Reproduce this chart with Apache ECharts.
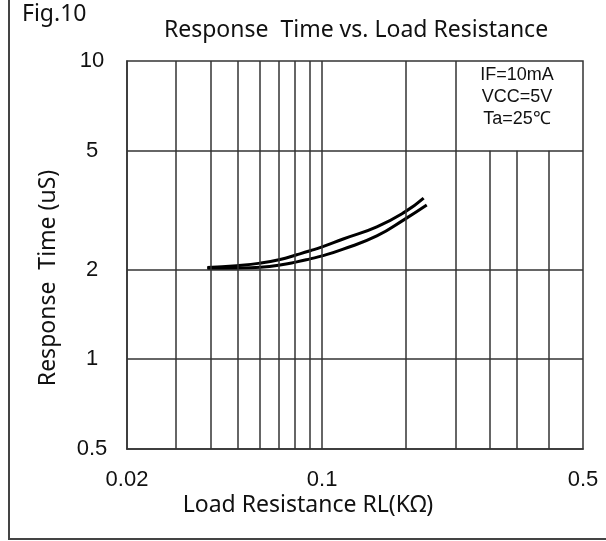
<!DOCTYPE html>
<html>
<head>
<meta charset="utf-8">
<script src="https://cdn.jsdelivr.net/npm/echarts@6/dist/echarts.min.js"></script>
<style>
  html, body { margin: 0; padding: 0; background: #fff; }
  #chart { width: 606px; height: 541px; }
</style>
</head>
<body>
<div id="chart"></div>
<script>
// curve data (RL in kOhm, response time in uS)
const upperX = [0.0388, 0.0494, 0.06, 0.0707, 0.0811, 0.0906, 0.1, 0.119, 0.157, 0.198, 0.231]
const upperY = [2.03, 2.06, 2.10, 2.16, 2.24, 2.31, 2.38, 2.53, 2.78, 3.12, 3.47]
const lowerX = [0.0388, 0.0494, 0.06, 0.0707, 0.0811, 0.0906, 0.1, 0.119, 0.157, 0.198, 0.237]
const lowerY = [2.015, 2.02, 2.035, 2.07, 2.12, 2.17, 2.22, 2.34, 2.59, 2.95, 3.29]

// axis extents and ticks
const xMin = 0.02
const xMax = 0.86
const yMin = 0.5
const yMax = 10
const xLabelAt = [0.02, 0.1, 0.86]
const xLabelText = ['0.02', '0.1', '0.5']
const yLabelAt = [0.5, 1, 2, 5, 10]

// grid lines
const xGridFull = [0.03, 0.04, 0.05, 0.06, 0.07, 0.08, 0.09, 0.1, 0.2, 0.3]
const xGridLower = [0.4, 0.5, 0.65]   // these stop at the 5 uS line
const yGrid = [1, 2, 5]

const conditions = ['IF=10mA', 'VCC=5V', 'Ta=25\u2103']

const zip = (xs, ys) => xs.map((x, i) => [x, ys[i]])

const gridStyle = { color: '#333', width: 1.5, type: 'solid' }
const curveStyle = { color: '#000', width: 3 }
const textFont = '"Noto Sans", sans-serif'
const tickFont = '"Liberation Sans", Arial, sans-serif'

const chart = echarts.init(document.getElementById('chart'), null, { renderer: 'canvas' })

chart.setOption({
  backgroundColor: '#fff',
  animation: false,
  title: {
    text: 'Response  Time vs. Load Resistance',
    left: 351,
    top: 14,
    textAlign: 'center',
    textStyle: { fontFamily: textFont, fontWeight: 'normal', fontSize: 23, color: '#111' },
  },
  grid: {
    left: 127, right: 23, top: 61, bottom: 92,
    show: true, borderColor: '#333', borderWidth: 1.5, backgroundColor: 'transparent',
  },
  xAxis: {
    type: 'log',
    min: xMin,
    max: xMax,
    axisLine: { lineStyle: { color: '#333', width: 1.5 } },
    axisTick: { show: false },
    splitLine: { show: false },
    axisLabel: {
      customValues: xLabelAt,
      margin: 20,
      fontFamily: tickFont,
      fontSize: 22,
      color: '#111',
      formatter: (v) => {
        const i = xLabelAt.findIndex(a => Math.abs(a - v) < 1e-6)
        return i >= 0 ? xLabelText[i] : ''
      },
    },
  },
  yAxis: {
    type: 'log',
    min: yMin,
    max: yMax,
    axisLine: { lineStyle: { color: '#333', width: 1.5 } },
    axisTick: { show: false },
    splitLine: { show: false },
    axisLabel: {
      customValues: yLabelAt,
      margin: 35,
      align: 'center',
      fontFamily: tickFont,
      fontSize: 22,
      color: '#111',
      formatter: (v) => String(v),
    },
  },
  graphic: [
    {
      type: 'polyline',
      shape: { points: [[9, 0], [9, 539], [606, 539]] },
      style: { stroke: '#444', lineWidth: 2, fill: null },
      silent: true,
    },
    {
      type: 'text', left: 22, top: 3,
      style: { text: 'Fig.10', font: '23px ' + textFont, fill: '#111' },
    },
    {
      type: 'text', x: 48, y: 278, rotation: Math.PI / 2,
      style: {
        text: 'Response  Time (uS)', font: '23px ' + textFont, fill: '#111',
        textAlign: 'center', textVerticalAlign: 'middle',
      },
    },
    {
      type: 'text', x: 308, y: 505,
      style: {
        text: 'Load Resistance RL(K\u03A9)', font: '23px ' + textFont, fill: '#111',
        textAlign: 'center', textVerticalAlign: 'middle',
      },
    },
    {
      type: 'text', x: 517, y: 64,
      style: {
        text: conditions.join('\n'), font: '18px ' + tickFont, fill: '#111',
        textAlign: 'center', textVerticalAlign: 'top', lineHeight: 22,
      },
    },
  ],
  series: [
    {
      type: 'line',
      data: zip(upperX, upperY),
      smooth: 0.5,
      showSymbol: false,
      lineStyle: curveStyle,
      z: 3,
      markLine: {
        silent: true,
        symbol: 'none',
        label: { show: false },
        lineStyle: gridStyle,
        animation: false,
        data: [
          ...xGridFull.map(v => ({ xAxis: v })),
          ...yGrid.map(v => ({ yAxis: v })),
          ...xGridLower.map(v => [{ coord: [v, yMin] }, { coord: [v, 5] }]),
        ],
      },
    },
    {
      type: 'line',
      data: zip(lowerX, lowerY),
      smooth: 0.5,
      showSymbol: false,
      lineStyle: curveStyle,
      z: 3,
    },
  ],
})

window.addEventListener('resize', () => chart.resize())
</script>
</body>
</html>
